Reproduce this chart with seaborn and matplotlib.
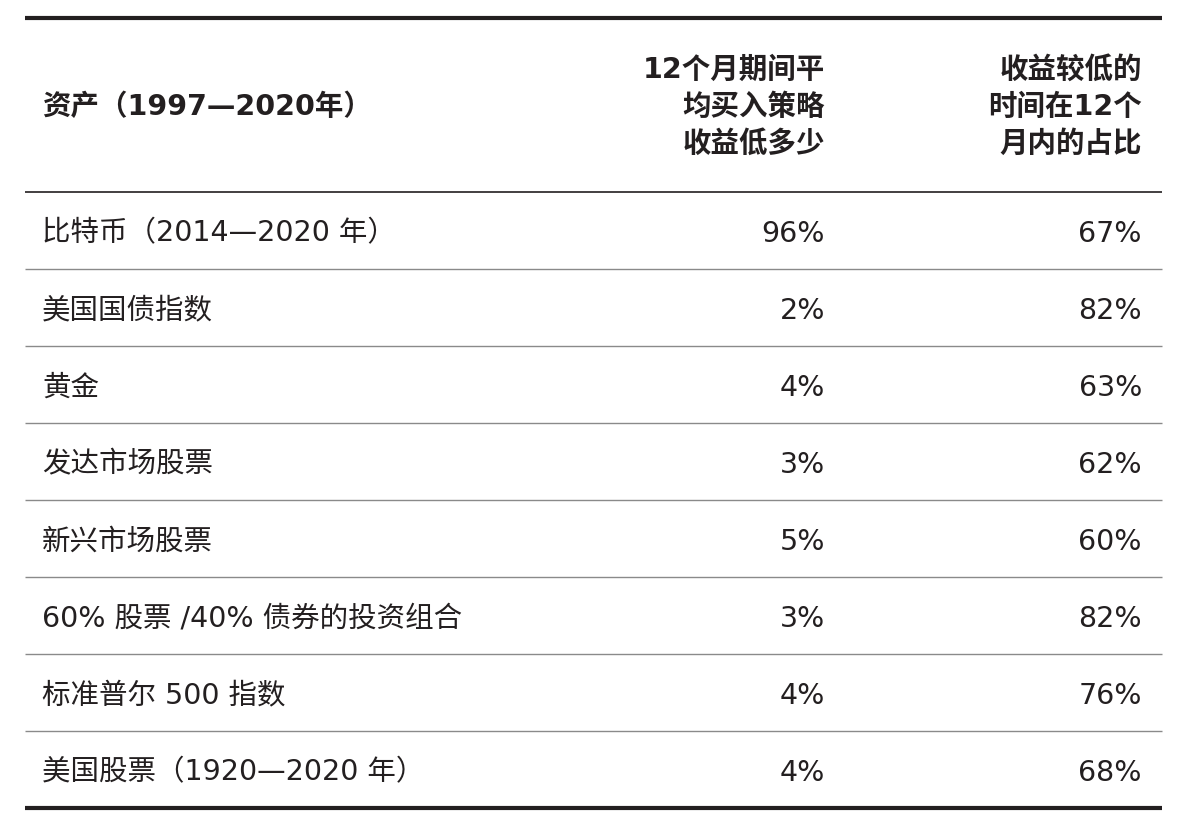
import matplotlib
matplotlib.use("Agg")
import matplotlib.pyplot as plt
import seaborn as sns

assets = ["比特币（2014—2020 年）", "美国国债指数", "黄金", "发达市场股票", "新兴市场股票",
          "60% 股票 /40% 债券的投资组合", "标准普尔 500 指数", "美国股票（1920—2020 年）"]
lower_by = ["96%", "2%", "4%", "3%", "5%", "3%", "4%", "4%"]
share_lower = ["67%", "82%", "63%", "62%", "60%", "82%", "76%", "68%"]
headers = ["资产（1997—2020年）", "12个月期间平\n均买入策略\n收益低多少", "收益较低的\n时间在12个\n月内的占比"]

sns.set_theme(style="white")
plt.rcParams['font.family'] = ['DejaVu Sans', 'Noto Sans CJK SC']

fig = plt.figure(figsize=(11.88, 8.3), dpi=100)
ax = fig.add_axes([0, 0, 1, 1])
ax.set_xlim(0, 1188)
ax.set_ylim(830, 0)
ax.axis("off")

left, right = 25, 1162
header_bottom = 192
row_h = 77
fs = 20.5
ink = "#231f20"

# header
ax.hlines(18, left, right, color=ink, lw=3)
ax.text(42, 107, headers[0], ha="left", va="center", fontsize=fs, fontweight="bold", color=ink)
ax.text(825, 107, headers[1], ha="right", va="center", fontsize=fs, fontweight="bold",
        color=ink, linespacing=1.4, multialignment="right")
ax.text(1142, 107, headers[2], ha="right", va="center", fontsize=fs, fontweight="bold",
        color=ink, linespacing=1.4, multialignment="right")
ax.hlines(header_bottom, left, right, color=ink, lw=1.2)

for i, (a, b, c) in enumerate(zip(assets, lower_by, share_lower)):
    yc = header_bottom + row_h * (i + 0.5) + 3
    ax.text(42, yc, a, ha="left", va="center", fontsize=fs, color=ink)
    ax.text(825, yc, b, ha="right", va="center", fontsize=fs, color=ink)
    ax.text(1142, yc, c, ha="right", va="center", fontsize=fs, color=ink)
    yb = header_bottom + row_h * (i + 1)
    if i < len(assets) - 1:
        ax.hlines(yb, left, right, color="#8a8a8a", lw=1)
    else:
        ax.hlines(yb, left, right, color=ink, lw=3)

fig.savefig("out.png", dpi=100)
